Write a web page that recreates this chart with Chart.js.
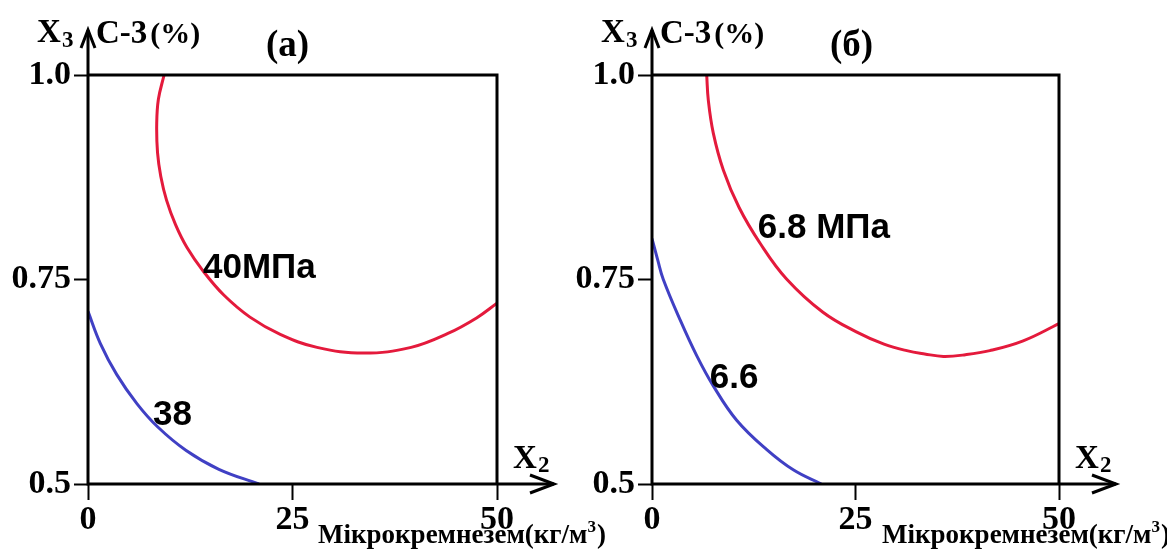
<!DOCTYPE html>
<html><head><meta charset="utf-8">
<script src="https://cdn.jsdelivr.net/npm/chart.js@4.4.0/dist/chart.umd.min.js"></script>
<style>
html,body{margin:0;padding:0;background:#fff;width:1167px;height:551px;overflow:hidden}
canvas{position:absolute;top:0}
#ca{left:0;width:620px;height:551px}
#cb{left:564px;width:603px;height:551px}
</style></head><body>
<canvas id="ca" width="620" height="551"></canvas>
<canvas id="cb" width="603" height="551"></canvas>
<script>
// ---- data ----
const xTicks = [0, 25, 50];
const xTickLabels = ['0', '25', '50'];
const yTicks = [0.5, 0.75, 1.0];
const yTickLabels = ['0.5', '0.75', '1.0'];

// panel (а)
const aRedX  = [9.3, 8.6, 8.4, 8.5, 8.9, 9.6, 10.7, 12.1, 14.1, 16.6, 19.8, 23.5, 28.0, 33.7, 39.5, 44.0, 47.5, 50];
const aRedY  = [1.0, 0.97, 0.94, 0.905, 0.876, 0.847, 0.817, 0.789, 0.760, 0.731, 0.704, 0.683, 0.667, 0.660, 0.667, 0.684, 0.703, 0.721];
const aBlueX = [0, 1.5, 3.5, 6.0, 8.5, 12.0, 16.0, 20.9];
const aBlueY = [0.711, 0.672, 0.634, 0.598, 0.570, 0.541, 0.518, 0.5];
// panel (б)
const bRedX  = [6.72, 6.92, 7.53, 8.76, 10.7, 13.3, 16.5, 21.0, 25.1, 28.5, 31.3, 33.5, 35.8, 38.5, 41.5, 45.6, 50];
const bRedY  = [1.0, 0.969, 0.929, 0.884, 0.838, 0.794, 0.751, 0.710, 0.686, 0.671, 0.663, 0.659, 0.656, 0.658, 0.663, 0.675, 0.696];
const bBlueX = [0, 0.7, 1.39, 3.44, 5.49, 7.53, 10.4, 14.1, 17.4, 20.8];
const bBlueY = [0.80, 0.774, 0.750, 0.701, 0.657, 0.620, 0.578, 0.542, 0.517, 0.5];

const panelTitles = ['(а)', '(б)'];
const aLabels = ['40МПа', '38'];
const bLabels = ['6.8 МПа', '6.6'];

const RED = 'rgb(228,26,60)';
const BLUE = 'rgb(64,64,196)';
const SERIF = '"Liberation Serif","Times New Roman",serif';
const SANS = '"Liberation Sans",Arial,sans-serif';

function pts(xs, ys){ return xs.map((x,i)=>({x:x, y:ys[i]})); }

const deco = {
  id: 'deco',
  afterDraw(chart, args, o) {
    const c = chart.ctx, a = chart.chartArea;
    const L = a.left, R = a.right, T = a.top, B = a.bottom;
    c.save();
    c.strokeStyle = '#000'; c.lineWidth = 3; c.lineCap = 'butt'; c.lineJoin = 'miter';
    c.beginPath();
    c.moveTo(L, 30); c.lineTo(L, B + 1.5);
    c.moveTo(L - 1.5, B); c.lineTo(R + 57, B);
    c.moveTo(L, T); c.lineTo(R + 1.5, T);
    c.moveTo(R, T); c.lineTo(R, B);
    c.stroke();
    c.beginPath();
    c.moveTo(L - 7, 48); c.lineTo(L, 30); c.lineTo(L + 7, 48);
    c.moveTo(R + 33, B - 9); c.lineTo(R + 57, B); c.lineTo(R + 33, B + 9);
    c.stroke();

    c.fillStyle = '#000';
    c.textBaseline = 'alphabetic'; c.textAlign = 'left';
    // y axis label
    c.font = 'bold 33px ' + SERIF;
    c.fillText('X', L - 51, 42);
    c.font = 'bold 23px ' + SERIF;
    c.fillText('3', L - 26, 47);
    c.font = 'bold 33px ' + SERIF;
    c.fillText('С-3', L + 8, 43);
    let w = c.measureText('С-3').width;
    c.font = 'bold 30px ' + SERIF;
    c.fillText('(%)', L + 11 + w, 43);
    // title
    c.font = 'bold 37px ' + SERIF;
    c.fillText(o.title, L + 178, 56);
    // x axis label
    c.font = 'bold 33px ' + SERIF;
    c.fillText('X', R + 16, 468);
    c.font = 'bold 23px ' + SERIF;
    c.fillText('2', R + 41, 472);
    c.font = 'bold 27px ' + SERIF;
    const t1 = 'Мікрокремнезем(кг/м';
    c.fillText(t1, L + 230, 543);
    let w1 = c.measureText(t1).width;
    c.font = 'bold 17px ' + SERIF;
    c.fillText('3', L + 230 + w1, 532);
    let w2 = c.measureText('3').width;
    c.font = 'bold 27px ' + SERIF;
    c.fillText(')', L + 231 + w1 + w2, 543);

    // contour labels
    const xs = chart.scales.x, ys = chart.scales.y;
    c.font = 'bold 35px ' + SANS;
    o.labels.forEach(l => {
      c.fillText(l.text, xs.getPixelForValue(l.x), ys.getPixelForValue(l.y));
    });
    c.restore();
  }
};

function makeChart(id, redX, redY, blueX, blueY, title, labels, padRight) {
  return new Chart(document.getElementById(id), {
    type: 'scatter',
    data: {
      datasets: [
        { data: pts(redX, redY), showLine: true, borderColor: RED, borderWidth: 3, pointRadius: 0, tension: 0.4, fill: false },
        { data: pts(blueX, blueY), showLine: true, borderColor: BLUE, borderWidth: 3, pointRadius: 0, tension: 0.4, fill: false }
      ]
    },
    options: {
      responsive: false, animation: false, events: [],
      layout: { padding: { left: 0, top: 75, right: padRight, bottom: 0 } },
      plugins: {
        legend: { display: false }, tooltip: { enabled: false },
        deco: { title: title, labels: labels }
      },
      scales: {
        x: {
          type: 'linear', min: 0, max: 50,
          afterBuildTicks: s => { s.ticks = xTicks.map(v => ({ value: v })); },
          afterFit: s => { s.height = 67; },
          ticks: { callback: (v, i) => xTickLabels[i], color: '#000', padding: 0, maxRotation: 0,
                   font: { family: SERIF, weight: 'bold', size: 34 } },
          grid: { drawOnChartArea: false, drawTicks: true, tickLength: 16, tickColor: '#000', tickWidth: 2 },
          border: { display: false }
        },
        y: {
          type: 'linear', min: 0.5, max: 1.0,
          afterBuildTicks: s => { s.ticks = yTicks.map(v => ({ value: v })); },
          afterFit: s => { s.width = 88; },
          ticks: { callback: (v, i) => yTickLabels[i], color: '#000', padding: 3,
                   font: { family: SERIF, weight: 'bold', size: 34 } },
          grid: { drawOnChartArea: false, drawTicks: true, tickLength: 14, tickColor: '#000', tickWidth: 2 },
          border: { display: false }
        }
      }
    },
    plugins: [deco]
  });
}

makeChart('ca', aRedX, aRedY, aBlueX, aBlueY, panelTitles[0],
  [{ text: aLabels[0], x: 14.06, y: 0.752 }, { text: aLabels[1], x: 7.95, y: 0.572 }], 123);
makeChart('cb', bRedX, bRedY, bBlueX, bBlueY, panelTitles[1],
  [{ text: bLabels[0], x: 13.0, y: 0.8007 }, { text: bLabels[1], x: 7.1, y: 0.617 }], 108);
</script>
</body></html>
